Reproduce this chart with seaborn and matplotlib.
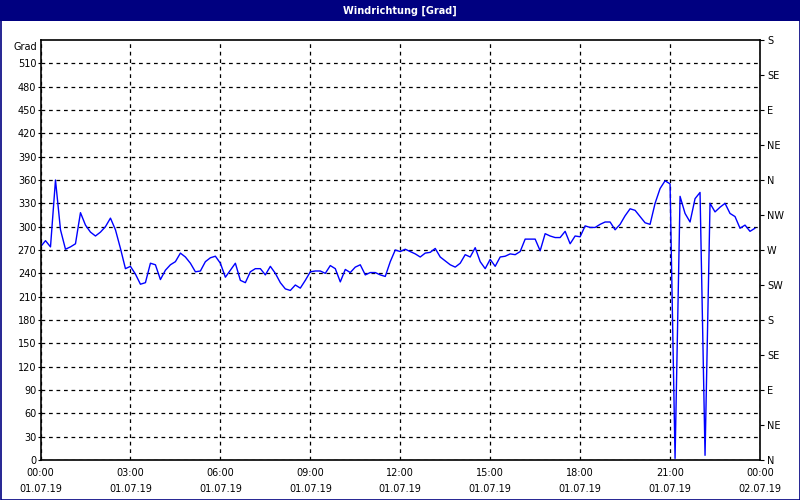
import matplotlib
matplotlib.use("Agg")
import matplotlib.pyplot as plt
import matplotlib.dates as mdates
import matplotlib.patches as mpatches
import numpy as np
import pandas as pd
import seaborn as sns

# ---- data ----
start_time = "2019-07-01 00:00"
interval = "10min"
wind_deg = [
    274, 282, 274, 360, 296, 271, 274, 278, 318, 302, 293, 288, 293, 300, 311, 296,
    272, 246, 249, 239, 226, 228, 253, 251, 232, 244, 251, 255, 266, 261, 253, 242,
    243, 255, 260, 262, 253, 235, 244, 253, 231, 228, 242, 246, 246, 238, 249, 240,
    228, 220, 218, 225, 221, 231, 242, 243, 243, 240, 250, 246, 229, 245, 241, 248,
    251, 238, 241, 241, 238, 236, 255, 270, 268, 271, 268, 265, 261, 266, 267, 272,
    261, 256, 251, 248, 253, 264, 261, 273, 255, 246, 258, 249, 261, 262, 265, 264,
    268, 284, 284, 284, 269, 291, 288, 286, 286, 294, 278, 288, 287, 301, 299, 299,
    303, 306, 306, 296, 303, 314, 323, 321, 313, 305, 303, 330, 349, 359, 355, 2,
    339, 317, 306, 336, 344, 6, 330, 319, 325, 330, 317, 313, 298, 302, 294, 298,
]
left_ticks = list(range(0, 511, 30))
right_ticks = list(range(0, 541, 45))
right_labels = ["N", "NE", "E", "SE", "S", "SW", "W", "NW", "N", "NE", "E", "SE", "S"]
title = "Windrichtung [Grad]"
unit_label = "Grad"

times = pd.date_range(start_time, periods=len(wind_deg), freq=interval)
df = pd.DataFrame({"time": times, "deg": wind_deg})

sns.set_style("white")
plt.rcParams["font.family"] = ["DejaVu Sans"]
plt.rcParams["font.size"] = 7

fig = plt.figure(figsize=(8, 5), dpi=100)
fig.patch.set_facecolor("white")

# title bar
fig.patches.append(mpatches.Rectangle((0, 1 - 21 / 500), 1, 21 / 500, transform=fig.transFigure,
                                      facecolor="#000080", edgecolor="none", zorder=0))
fig.patches.append(mpatches.Rectangle((0.5 / 800, 0.5 / 500), 1 - 1 / 800, 1 - 1 / 500,
                                      transform=fig.transFigure, facecolor="none",
                                      edgecolor="#000080", linewidth=1.2, zorder=5))
fig.text(0.5, 1 - 10.5 / 500, title, color="white", ha="center", va="center",
         fontsize=7, fontweight="bold")

ax = fig.add_axes([40.5 / 800, 40 / 500, 719.5 / 800, 420 / 500])
sns.lineplot(data=df, x="time", y="deg", ax=ax, color="#0000ff", linewidth=1.0)

x0 = pd.Timestamp("2019-07-01 00:00")
x1 = pd.Timestamp("2019-07-02 00:00")
ax.set_xlim(x0, x1)
ax.set_ylim(0, 540)
ax.set_yticks(left_ticks)
ax.set_xlabel("")
ax.set_ylabel("")

ax.xaxis.set_major_locator(mdates.HourLocator(byhour=range(0, 24, 3)))
ax.xaxis.set_major_formatter(mdates.DateFormatter("%H:%M\n%d.%m.%y"))
ax.xaxis.set_minor_locator(mdates.HourLocator())

ax.grid(True, which="major", color="black", linestyle=(0, (3, 3)), linewidth=0.9)
for s in ax.spines.values():
    s.set_color("black")
    s.set_linewidth(1.2)

ax.tick_params(axis="x", which="major", length=3, width=0.8, direction="out",
               pad=3, labelsize=7, colors="black")
ax.tick_params(axis="x", which="minor", length=3, width=0.8, direction="out")
ax.tick_params(axis="y", which="major", length=2, width=0.8, direction="out",
               pad=1, labelsize=7, colors="black")
for lbl in ax.get_xticklabels():
    lbl.set_linespacing(1.75)

ax.text(-0.004, 1.0 - 1.5 / 420, unit_label, transform=ax.transAxes, ha="right", va="top",
        fontsize=7, color="black")
ax.set_yticklabels([str(t) for t in left_ticks])

ax2 = ax.twinx()
ax2.set_ylim(0, 540)
ax2.set_yticks(right_ticks)
ax2.set_yticklabels(right_labels)
ax2.tick_params(axis="y", length=3, width=0.8, direction="out", pad=2,
                labelsize=7, colors="black")
ax2.grid(False)
for s in ax2.spines.values():
    s.set_visible(False)

fig.savefig("out.png", dpi=100, facecolor="white")
